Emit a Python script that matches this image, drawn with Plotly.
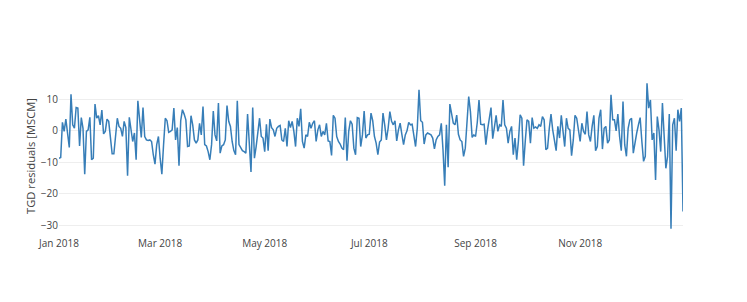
import pandas as pd
import plotly.graph_objects as go

start_date = "2018-01-01"
n_days = 365

residuals = [
    -8.7, -8.5, 2.7, -0.2, 3.7, -1.0, -5.3, 11.6, 1.9, 0.8,
    7.4, 7.2, -4.8, 4.2, 0.8, -13.8, -0.2, 0.3, 4.3, -9.2,
    -8.7, 8.5, 4.0, 4.8, 1.9, 6.6, -1.0, -0.2, 3.7, 3.0,
    -1.3, -7.3, -7.3, -0.7, 4.0, 1.4, 0.8, -1.8, 3.0, 1.0,
    -14.3, 4.3, 0.8, -3.4, -0.7, -9.2, 9.5, 3.5, -2.1, 7.4,
    -1.8, -2.9, -3.1, -2.9, -3.4, -7.6, -10.6, -4.4, -1.8, -8.7,
    -13.8, -4.4, 4.0, 3.2, -0.5, -0.2, 0.3, 7.2, -2.9, 1.0,
    -11.1, 3.2, 6.7, 5.3, 3.5, -5.0, -4.8, 4.8, 1.9, -2.9,
    -3.9, -2.9, 2.4, -1.3, 7.7, -4.4, -4.8, -6.6, -9.2, -4.4,
    6.3, -1.3, -3.2, 8.8, -7.1, -4.8, -4.4, -2.9, 8.0, 3.0,
    1.4, -3.4, -6.3, -7.6, 9.5, -4.4, -5.5, -6.3, -6.6, -7.1,
    5.3, -2.9, -13.1, 7.4, -8.7, -5.0, -0.2, 4.0, -1.8, -2.3,
    -6.6, 2.1, -6.3, 3.7, 1.0, 0.3, -1.8, 0.8, 1.4, 1.7,
    -2.9, -3.4, 0.8, -5.0, 3.2, 1.0, 3.0, -0.2, -5.0, 4.0,
    1.4, 7.0, -3.4, -5.5, -1.3, -1.8, 2.7, 0.8, 2.4, 3.2,
    -3.4, 0.3, 1.9, -1.8, -0.2, -1.3, 2.4, -3.2, -3.4, -7.8,
    4.9, 4.0, -1.8, -3.4, -4.2, -5.5, -6.0, 4.2, -9.5, -0.2,
    3.2, 2.1, -5.5, -7.6, 4.2, 4.0, -5.0, -1.3, 6.3, -2.3,
    -1.3, -1.1, 5.6, 3.2, -1.8, -3.9, -7.6, -3.6, -2.9, 5.6,
    1.9, -2.9, 0.8, 6.1, 3.0, 1.9, 3.2, -3.2, 0.3, 2.4,
    -1.1, -4.4, -1.3, 0.0, 2.7, 1.9, 2.1, -2.1, -5.0, 0.8,
    13.0, 3.2, 2.7, -4.2, -1.3, -0.7, -1.1, -1.3, -2.3, -5.7,
    -2.9, -1.8, -1.3, 2.4, -6.0, -17.4, 1.9, -11.6, 8.5, 4.9,
    2.4, 1.9, 5.0, -1.1, -2.9, -3.4, -8.1, -5.5, 3.0, 10.9,
    6.1, -2.1, -1.3, -1.8, 2.7, 9.8, 2.1, 1.9, 2.1, -4.4,
    0.3, 4.0, 7.4, -2.5, 1.9, 4.9, -0.2, 1.9, 1.4, 9.8,
    1.9, 0.8, -3.9, -0.2, 1.4, -7.6, -2.3, -9.2, -3.2, 5.1,
    4.0, -11.1, -3.2, 3.5, 3.0, -3.9, 4.2, 0.8, 1.2, 0.8,
    1.9, 1.4, 4.5, 3.5, -6.0, -5.5, 0.8, 5.3, 0.3, -2.9,
    -6.3, 1.4, -2.3, 4.9, -1.3, -5.0, 4.0, 0.8, 0.3, -7.9,
    -2.9, 4.9, 4.0, 0.8, -3.4, 2.4, -0.2, -1.1, 6.1, -1.3,
    -3.4, 1.4, 4.9, -6.3, -5.0, 4.0, 6.7, -5.8, 0.8, 1.4,
    -3.9, -2.9, 11.4, 3.5, 3.5, 0.0, 5.3, -1.8, -6.3, 9.3,
    -4.4, -8.1, 0.8, 3.5, 4.0, -7.1, -3.4, -0.7, 1.9, 4.2,
    -3.4, -9.7, -8.1, 15.1, 7.2, 9.8, -2.9, -0.7, -15.6, 4.5,
    0.3, -6.6, 8.8, -2.3, -11.9, -8.1, 5.3, -31.1, 1.9, 4.0,
    -6.3, 6.7, 3.0, 7.2, -25.6,
]

y_title = "TGD residuals [MSCM]"
y_ticks = [-30, -20, -10, 0, 10]
x_ticks = ["2018-01-01", "2018-03-01", "2018-05-01", "2018-07-01", "2018-09-01", "2018-11-01"]
x_ticklabels = ["Jan 2018", "Mar 2018", "May 2018", "Jul 2018", "Sep 2018", "Nov 2018"]

dates = pd.date_range(start_date, periods=n_days, freq="D")

fig = go.Figure(
    go.Scatter(
        x=dates,
        y=residuals,
        mode="lines",
        line=dict(color="#377eb8", width=1.5),
        showlegend=False,
    )
)

fig.update_layout(
    template="none",
    width=747,
    height=302,
    margin=dict(l=51, r=72, t=68, b=74),
    paper_bgcolor="white",
    plot_bgcolor="white",
    font=dict(family="Open Sans, sans-serif", size=10, color="#444"),
)
fig.update_xaxes(
    range=[dates[0], dates[-1]],
    automargin=False,
    showgrid=False,
    zeroline=False,
    showline=False,
    ticks="",
    tickvals=x_ticks,
    ticktext=x_ticklabels,
)
fig.update_yaxes(
    range=[-33.4, 17.4],
    automargin=False,
    title=dict(text=y_title, font=dict(size=11.2), standoff=2),
    tickvals=y_ticks,
    showgrid=True,
    gridcolor="#eee",
    zeroline=False,
    showline=False,
    ticks="",
)

fig.write_html("out.html")
